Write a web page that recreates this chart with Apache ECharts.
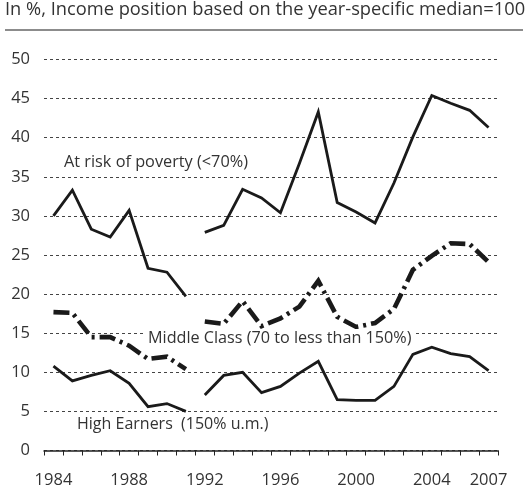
<!DOCTYPE html>
<html>
<head>
    <meta charset="utf-8">
    <title>Income groups</title>
    <script src="https://cdn.jsdelivr.net/npm/echarts@6/dist/echarts.min.js"></script>
    <style>
        html, body { margin: 0; padding: 0; background: #ffffff; }
        #chart { width: 528px; height: 489px; }
    </style>
</head>
<body>
<div id="chart"></div>
<script>
    // years on the axis, break between 1991 and 1992
    var years = ['1984', '1985', '1986', '1987', '1988', '1989', '1990', '1991',
        '1992', '1993', '1994', '1995', '1996', '1997', '1998', '1999',
        '2000', '2001', '2002', '2003', '2004', '2005', '2006', '2007'];
    var yearLabels = ['1984', '1988', '1992', '1996', '2000', '2004', '2007'];
    var yTicks = [0, 5, 10, 15, 20, 25, 30, 35, 40, 45, 50];

    // 1984-1991
    var povertyWest = [30.0, 33.3, 28.3, 27.3, 30.7, 23.3, 22.8, 19.7];
    var middleWest = [17.7, 17.6, 14.5, 14.5, 13.4, 11.7, 12.0, 10.4];
    var highWest = [10.8, 8.9, 9.6, 10.2, 8.6, 5.6, 6.0, 5.0];
    // 1992-2007
    var povertyAll = [27.9, 28.8, 33.4, 32.3, 30.4, 36.7, 43.3, 31.7, 30.5, 29.1, 34.2, 40.1, 45.4, 44.4, 43.5, 41.3];
    var middleAll = [16.5, 16.2, 19.1, 15.9, 16.9, 18.4, 21.7, 17.1, 15.8, 16.3, 18.1, 23.1, 24.9, 26.5, 26.4, 24.1];
    var highAll = [7.1, 9.6, 10.0, 7.4, 8.2, 9.9, 11.4, 6.5, 6.4, 6.4, 8.2, 12.3, 13.2, 12.4, 12.0, 10.2];

    var labelPoverty = 'At risk of poverty (<70%)';
    var labelMiddle = 'Middle Class (70 to less than 150%)';
    var labelHigh = 'High Earners  (150% u.m.)';

    var font = '"Open Sans", "Noto Sans", sans-serif';

    // put a segment at the right place on the year axis
    function firstPart(arr) {
        return arr.concat(new Array(years.length - arr.length).fill(null));
    }
    function lastPart(arr) {
        return new Array(years.length - arr.length).fill(null).concat(arr);
    }

    var solid = {color: '#1a1a1a', width: 2.8, join: 'miter'};
    var dashDot = {color: '#1a1a1a', width: 4.6, type: [16, 5, 3, 5], cap: 'butt', join: 'miter'};

    function line(data, style) {
        return {
            type: 'line',
            data: data,
            symbol: 'none',
            connectNulls: false,
            lineStyle: style,
            silent: true
        };
    }

    var chart = echarts.init(document.getElementById('chart'), null, {renderer: 'canvas'});

    var option = {
        animation: false,
        backgroundColor: '#ffffff',
        grid: {left: 44, right: 30, top: 59.5, bottom: 38.5},
        xAxis: {
            type: 'category',
            data: years,
            boundaryGap: true,
            axisLine: {lineStyle: {color: '#222', width: 1.5}},
            axisTick: {show: true, interval: 0, length: 5, lineStyle: {color: '#222', width: 1}},
            axisLabel: {
                interval: function (i, v) {
                    return yearLabels.indexOf(v) >= 0;
                },
                color: '#333',
                fontFamily: font,
                fontSize: 16.5,
                margin: 21
            },
            splitLine: {show: false}
        },
        yAxis: {
            type: 'value',
            min: yTicks[0],
            max: yTicks[yTicks.length - 1],
            interval: 5,
            axisLine: {show: false},
            axisTick: {show: false},
            axisLabel: {color: '#333', fontFamily: font, fontSize: 16.5, margin: 14},
            splitLine: {lineStyle: {color: '#444', width: 1, type: [3, 3]}}
        },
        graphic: [
            {
                type: 'text',
                left: 5, top: 1,
                style: {text: 'In %, Income position based on the year-specific median=100', fill: '#333', font: '18.3px ' + font}
            },
            {
                type: 'rect',
                shape: {x: 5, y: 29, width: 518, height: 2},
                style: {fill: '#8c8c8c'}
            },
            {
                type: 'text',
                style: {x: 64, y: 162, text: labelPoverty, fill: '#333', font: '16.3px ' + font, verticalAlign: 'middle'}
            },
            {
                type: 'text',
                z: 10,
                style: {
                    x: 145, y: 338, text: labelMiddle, fill: '#333', font: '16.2px ' + font, verticalAlign: 'middle',
                    backgroundColor: '#ffffff', padding: [1, 3]
                }
            },
            {
                type: 'text',
                style: {x: 77, y: 424, text: labelHigh, fill: '#333', font: '16px ' + font, verticalAlign: 'middle'}
            }
        ],
        series: [
            line(firstPart(povertyWest), solid),
            line(lastPart(povertyAll), solid),
            line(firstPart(middleWest), dashDot),
            line(lastPart(middleAll), dashDot),
            line(firstPart(highWest), solid),
            line(lastPart(highAll), solid)
        ]
    };
    chart.setOption(option);
</script>
</body>
</html>
